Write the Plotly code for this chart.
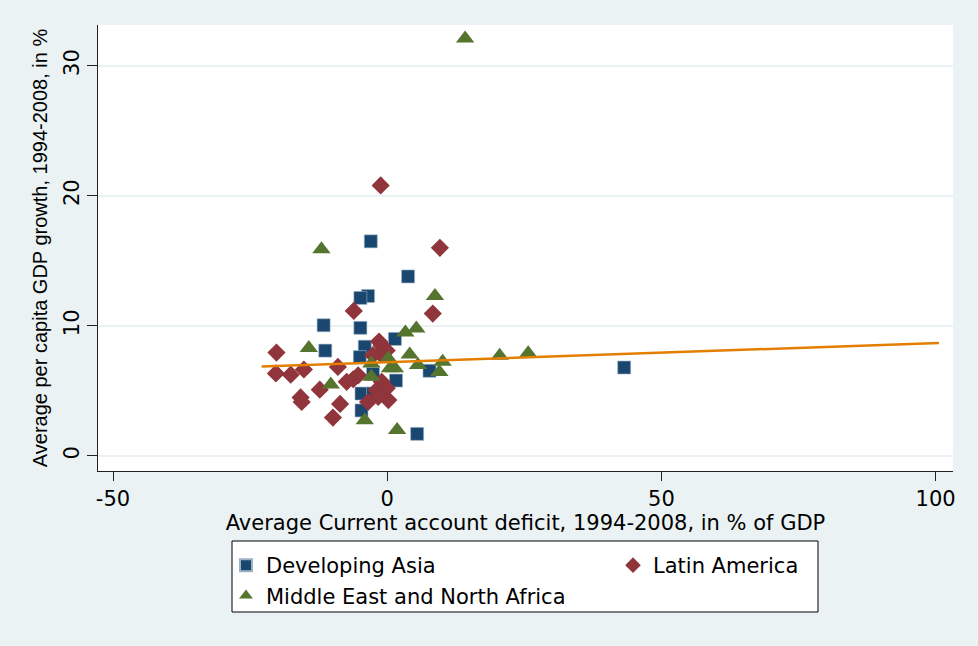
import plotly.graph_objects as go

# ---- data ----
asia_x = [-3.0, 3.8, -3.5, -4.9, -11.6, -4.9, 1.4, -11.3, -4.1, -5.0, 43.2, 7.7, 1.6, -4.7, -2.6, -4.7, 5.45, -2.6]
asia_y = [16.5, 13.8, 12.3, 12.15, 10.05, 9.85, 9.0, 8.1, 8.4, 7.6, 6.8, 6.55, 5.8, 4.8, 4.8, 3.5, 1.7, 6.3]

latam_x = [-1.2, 9.6, -6.1, 8.3, -1.5, -20.2, -1.0, -1.35, -2.6, -0.1, -20.3, -17.6, -15.2, -9.0,
           -12.3, -15.8, -15.6, -8.6, -9.9, -7.4, -6.2, -5.3, -1.0, -0.1, -1.95, -1.65, 0.2, -3.5]
latam_y = [20.8, 16.0, 11.15, 10.95, 8.8, 7.95, 8.5, 7.9, 7.75, 8.1, 6.35, 6.25, 6.65, 6.85,
           5.1, 4.5, 4.15, 4.0, 2.95, 5.7, 5.9, 6.2, 5.7, 5.2, 5.05, 4.55, 4.3, 4.15]

mena_x = [14.2, -12.0, 8.7, 3.3, 5.3, -14.3, 4.1, 0.2, -2.9, 0.5, 1.4, 5.6, 10.1, 9.5, -2.9, -10.3, -4.1, 1.8, 20.5, 25.7]
mena_y = [32.1, 15.9, 12.3, 9.5, 9.8, 8.3, 7.8, 7.5, 7.1, 6.75, 6.75, 7.0, 7.25, 6.45, 6.1, 5.5, 2.75, 2.0, 7.7, 7.9]

fit_x = [-22.9, 100.6]
fit_y = [6.87, 8.69]

x_ticks = [-50, 0, 50, 100]
y_ticks = [0, 10, 20, 30]

series_names = ["Developing Asia", "Latin America", "Middle East and North Africa"]
x_title = "Average Current account deficit, 1994-2008, in % of GDP"
y_title = "Average per capita GDP growth, 1994-2008, in %"

# ---- styling ----
NAVY = "#1a476f"
MAROON = "#90353b"
GREEN = "#55752f"
ORANGE = "#e37e00"
BG = "#eaf2f3"
FONT = "DejaVu Sans, Liberation Sans, Arial, sans-serif"
YFONT = "Liberation Sans, Arial, sans-serif"
FS = 21
YFS = 20

W, H = 978, 646
L, R, T, B = 98, 25, 25, 175
PW, PH = W - L - R, H - T - B


def px_x(p):
    return (p - L) / PW


def px_y(p):
    return (H - B - p) / PH


fig = go.Figure()
fig.add_trace(go.Scatter(x=asia_x, y=asia_y, mode="markers", name=series_names[0],
                         marker=dict(symbol="square", size=13, color=NAVY,
                                     line=dict(width=0.6, color="#9fb3c6")),
                         legend="legend"))
fig.add_trace(go.Scatter(x=latam_x, y=latam_y, mode="markers", name=series_names[1],
                         marker=dict(symbol="diamond", size=14, color=MAROON, line=dict(width=0)),
                         legend="legend2"))
fig.add_trace(go.Scatter(x=mena_x, y=mena_y, mode="markers", name=series_names[2],
                         marker=dict(symbol="triangle-up", size=16, color=GREEN, line=dict(width=0)),
                         legend="legend"))
fig.add_trace(go.Scatter(x=fit_x, y=fit_y, mode="lines", showlegend=False,
                         line=dict(color=ORANGE, width=2.5)))

legend_common = dict(
    bgcolor="rgba(0,0,0,0)", borderwidth=0, font=dict(family=FONT, size=FS, color="black"),
    orientation="v", xanchor="left", yanchor="top", itemsizing="constant",
)

fig.update_layout(
    width=W, height=H,
    margin=dict(l=L, r=R, t=T, b=B, pad=0),
    paper_bgcolor=BG, plot_bgcolor="white",
    font=dict(family=FONT, size=FS, color="black"),
    showlegend=True,
    legend=dict(x=px_x(226), y=px_y(545), **legend_common),
    legend2=dict(x=px_x(613), y=px_y(545), **legend_common),
    xaxis=dict(range=[-52.74, 103.16], tickvals=x_ticks, ticktext=[str(v) for v in x_ticks],
               showgrid=False, zeroline=False, showline=True, linecolor="#222222", linewidth=1,
               ticks="outside", ticklen=9, tickcolor="#222222", tickwidth=1,
               tickfont=dict(size=FS, family=FONT, color="black"),
               title=dict(text=x_title, font=dict(size=FS, family=FONT, color="black"), standoff=0)),
    yaxis=dict(range=[-1.154, 33.13], tickvals=y_ticks, ticktext=[str(v) for v in y_ticks],
               showgrid=True, gridcolor=BG, gridwidth=2, zeroline=False,
               showline=True, linecolor="#222222", linewidth=1,
               ticks="outside", ticklen=10, tickcolor="#222222", tickwidth=1, tickangle=-90,
               tickfont=dict(size=FS, family=FONT, color="black"),
               title=dict(text=y_title, font=dict(size=YFS, family=YFONT, color="black"), standoff=6)),
    shapes=[dict(type="rect", xref="paper", yref="paper",
                 x0=px_x(232), x1=px_x(818), y0=px_y(612), y1=px_y(541),
                 line=dict(color="black", width=1), fillcolor="white", layer="below")],
)

fig.write_html("out.html", config={"displayModeBar": False},
               post_script="document.body.style.margin='0';")
